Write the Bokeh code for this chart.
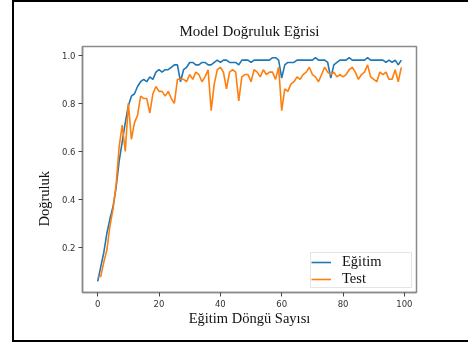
from bokeh.plotting import figure
from bokeh.embed import file_html
from bokeh.resources import INLINE
from bokeh.models import (Range1d, FixedTicker, PrintfTickFormatter, Legend, LegendItem, Title)

epochs = list(range(100))
train_acc = [
    0.06, 0.12, 0.18, 0.26, 0.32, 0.37, 0.45, 0.56, 0.64, 0.72,
    0.79, 0.83, 0.84, 0.87, 0.89, 0.90, 0.89, 0.91, 0.90, 0.93,
    0.94, 0.93, 0.94, 0.94, 0.95, 0.96, 0.96, 0.89, 0.94, 0.95,
    0.97, 0.97, 0.96, 0.96, 0.97, 0.97, 0.96, 0.96, 0.97, 0.98,
    0.97, 0.98, 0.98, 0.97, 0.97, 0.97, 0.96, 0.98, 0.98, 0.98,
    0.97, 0.98, 0.98, 0.98, 0.98, 0.98, 0.98, 0.99, 0.99, 0.98,
    0.905, 0.96, 0.97, 0.97, 0.97, 0.98, 0.98, 0.98, 0.98, 0.98,
    0.98, 0.99, 0.98, 0.98, 0.98, 0.97, 0.905, 0.96, 0.97, 0.98,
    0.98, 0.98, 0.99, 0.98, 0.98, 0.98, 0.98, 0.98, 0.99, 0.98,
    0.98, 0.98, 0.98, 0.98, 0.97, 0.98, 0.97, 0.98, 0.96, 0.98,
]
test_acc = [
    0.08, 0.08, 0.14, 0.19, 0.29, 0.36, 0.46, 0.62, 0.71, 0.60,
    0.80, 0.65, 0.72, 0.75, 0.83, 0.82, 0.82, 0.76, 0.84, 0.87,
    0.85, 0.85, 0.83, 0.85, 0.82, 0.80, 0.90, 0.90, 0.90, 0.89,
    0.92, 0.90, 0.93, 0.92, 0.89, 0.91, 0.94, 0.77, 0.88, 0.94,
    0.95, 0.93, 0.86, 0.93, 0.94, 0.93, 0.81, 0.91, 0.92, 0.92,
    0.89, 0.94, 0.93, 0.91, 0.94, 0.92, 0.93, 0.93, 0.90, 0.95,
    0.77, 0.86, 0.85, 0.88, 0.89, 0.91, 0.90, 0.92, 0.93, 0.95,
    0.92, 0.91, 0.89, 0.92, 0.95, 0.93, 0.92, 0.93, 0.91, 0.92,
    0.91, 0.92, 0.94, 0.95, 0.93, 0.90, 0.92, 0.93, 0.96, 0.91,
    0.90, 0.89, 0.93, 0.92, 0.93, 0.90, 0.90, 0.94, 0.89, 0.95,
]
x_ticks = [0, 20, 40, 60, 80, 100]
y_ticks = [0.2, 0.4, 0.6, 0.8, 1.0]
title_text = "Model Doğruluk Eğrisi"
x_label = "Eğitim Döngü Sayısı"
y_label = "Doğruluk"
series_names = ["Eğitim", "Test"]

SERIF = "Liberation Serif"

p = figure(width=454, height=338, output_backend="svg", toolbar_location=None,
           x_range=Range1d(-4.95, 103.95), y_range=Range1d(0.0135, 1.0365),
           min_border_left=68, min_border_right=54, min_border_top=44, min_border_bottom=52)
# place the picture like the reference: black frame on the left, top and bottom edges
p.styles = {"position": "fixed", "left": "12px", "top": "0px",
            "border-left": "2.5px solid black", "border-top": "2px solid black",
            "border-bottom": "2px solid black", "box-sizing": "content-box"}

p.title.text = title_text
p.title.align = "center"
p.title.text_font = SERIF
p.title.text_font_size = "15px"
p.title.text_font_style = "normal"
p.title.text_color = "#111111"
p.title.standoff = 16

p.grid.visible = False
p.outline_line_color = "#8a8a8a"
p.outline_line_width = 1.5
p.background_fill_color = "white"
p.border_fill_color = "white"

for ax in (p.xaxis[0], p.yaxis[0]):
    ax.axis_line_color = "#8a8a8a"
    ax.axis_line_width = 1.5
    ax.major_tick_line_color = "#444444"
    ax.major_tick_out = 4
    ax.major_tick_in = 0
    ax.minor_tick_line_color = None
    ax.major_label_text_font = "DejaVu Sans"
    ax.major_label_text_font_size = "8.5px"
    ax.major_label_text_color = "#333333"
    ax.axis_label_text_font = SERIF
    ax.axis_label_text_font_size = "14.5px"
    ax.axis_label_text_font_style = "normal"
    ax.axis_label_text_color = "#111111"

p.xaxis.ticker = FixedTicker(ticks=x_ticks)
p.yaxis.ticker = FixedTicker(ticks=y_ticks)
p.yaxis.formatter = PrintfTickFormatter(format="%.1f")
p.xaxis.axis_label = x_label
p.xaxis.major_label_standoff = 3
p.xaxis.axis_label_standoff = 0
p.yaxis.major_label_standoff = 3

# y-axis title as a side title, sitting a little below the middle of the axis
ytitle = Title(text=y_label, align="left", offset=66, standoff=14,
               text_font=SERIF, text_font_size="14.5px", text_font_style="normal",
               text_color="#111111")
p.add_layout(ytitle, "left")

r1 = p.line(epochs, train_acc, line_color="#1f77b4", line_width=1.6)
r2 = p.line(epochs, test_acc, line_color="#ff7f0e", line_width=1.6)

legend = Legend(items=[LegendItem(label=series_names[0], renderers=[r1]),
                       LegendItem(label=series_names[1], renderers=[r2])],
                location="bottom_right")
legend.label_text_font = SERIF
legend.label_text_font_size = "14.5px"
legend.label_text_color = "#111111"
legend.glyph_width = 20
legend.glyph_height = 14
legend.label_height = 14
legend.label_width = 69
legend.label_standoff = 11
legend.spacing = 0
legend.padding = 0
legend.margin = 4
legend.border_line_color = "#cccccc"
legend.border_line_width = 1
legend.background_fill_alpha = 0.8
p.add_layout(legend)

open("out.html", "w").write(file_html(p, INLINE))
